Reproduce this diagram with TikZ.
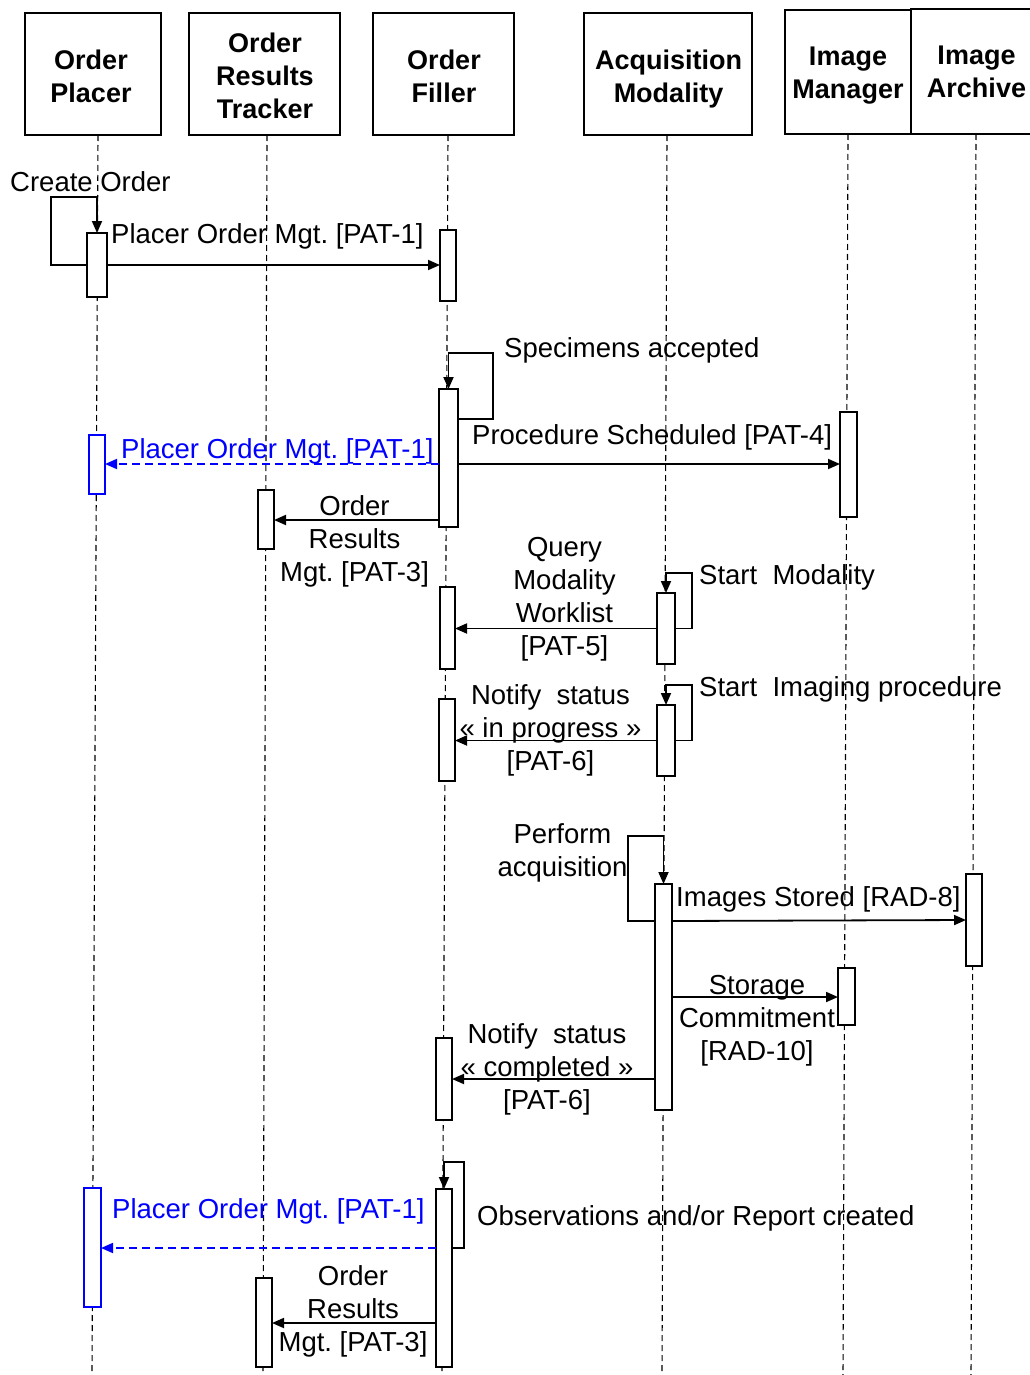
\documentclass[tikz,border=0pt]{standalone}
\usepackage{fontspec}
\setmainfont{Liberation Sans}
\usetikzlibrary{arrows.meta}
\definecolor{pblue}{RGB}{0,0,255}
\frenchspacing
\tikzset{
  head/.style={draw, line width=1.5pt, inner sep=0pt, outer sep=0pt},
  htxt/.style={font=\bfseries\fontsize{27}{33}\selectfont, align=center, inner sep=0pt, anchor=north},
  life/.style={line width=1.1pt, dash pattern=on 6pt off 4pt},
  act/.style={draw, fill=white, line width=1.4pt, inner sep=0pt, outer sep=0pt},
  bact/.style={act, draw=pblue},
  msg/.style={line width=1.8pt, -{Triangle[length=12pt,width=10pt]}},
  bmsg/.style={msg, draw=pblue, dash pattern=on 8pt off 5pt},
  lbl/.style={font=\fontsize{27.5}{33}\selectfont, inner sep=0pt, anchor=base west},
  mlbl/.style={font=\fontsize{27.5}{33}\selectfont, inner sep=0pt, align=center, anchor=north},
}
\begin{document}
\begin{tikzpicture}[x=1pt,y=-1pt]
\useasboundingbox (0,0) rectangle (1029,1375);
\fill[white] (0,0) rectangle (1029,1375);

% header boxes
\node[head, minimum width=136pt, minimum height=122pt] (opBox) at (93,74) {};
\node[head, minimum width=151pt, minimum height=122pt] (ortBox) at (264.5,74) {};
\node[head, minimum width=141pt, minimum height=122pt] (ofBox) at (443.5,74) {};
\node[head, minimum width=168pt, minimum height=122pt] (amBox) at (668,74) {};
\node[head, minimum width=126pt, minimum height=124pt] (imBox) at (848,72) {};
\node[head, minimum width=130pt, minimum height=125pt] (iaBox) at (976,71.5) {};

\node[htxt] (opT) at (91,50) {Order\\Placer};
\node[htxt] (ortT) at (265,33) {Order\\Results\\Tracker};
\node[htxt] (ofT) at (444,50) {Order\\Filler};
\node[htxt] (amT) at (668.5,50) {Acquisition\\Modality};
\node[htxt] (imT) at (848,47) {Image\\Manager};
\node[htxt] (iaT) at (976.5,46) {Image\\Archive};

% lifelines
\coordinate (opEnd) at (92,1375);
\coordinate (ortEnd) at (263,1375);
\coordinate (ofEnd) at (442,1375);
\coordinate (amEnd) at (662,1375);
\coordinate (imEnd) at (843,1375);
\coordinate (iaEnd) at (971,1375);
\draw[life] (opBox.south -| 98,0) -- (opEnd);
\draw[life] (ortBox.south -| 267,0) -- (ortEnd);
\draw[life] (ofBox.south -| 448,0) -- (ofEnd);
\draw[life] (amBox.south -| 667,0) -- (amEnd);
\draw[life] (imBox.south -| 848,0) -- (imEnd);
\draw[life] (iaBox.south -| 976,0) -- (iaEnd);

% activation boxes
\node[act, minimum width=20pt, minimum height=64pt] (opA1) at (97,265) {};
\node[act, minimum width=16pt, minimum height=71pt] (ofA1) at (448,265.5) {};
\node[act, minimum width=19pt, minimum height=138pt] (ofA2) at (448.5,458) {};
\node[act, minimum width=17pt, minimum height=105pt] (imA1) at (848.5,464.5) {};
\node[bact, minimum width=16pt, minimum height=59pt] (opB1) at (97,464.5) {};
\node[act, minimum width=16pt, minimum height=59pt] (ortA1) at (266,519.5) {};
\node[act, minimum width=15pt, minimum height=82pt] (ofA3) at (447.5,628) {};
\node[act, minimum width=18pt, minimum height=71pt] (amA1) at (666,628.5) {};
\node[act, minimum width=16pt, minimum height=82pt] (ofA4) at (447,740) {};
\node[act, minimum width=18pt, minimum height=71pt] (amA2) at (666,740.5) {};
\node[act, minimum width=17pt, minimum height=226pt] (amA3) at (663.5,997) {};
\node[act, minimum width=16pt, minimum height=92pt] (iaA1) at (974,920) {};
\node[act, minimum width=17pt, minimum height=57pt] (imA2) at (846.5,996.5) {};
\node[act, minimum width=16pt, minimum height=82pt] (ofA5) at (444,1079) {};
\node[act, minimum width=16pt, minimum height=178pt] (ofA6) at (444,1278) {};
\node[bact, minimum width=17pt, minimum height=119pt] (opB2) at (92.5,1247.5) {};
\node[act, minimum width=16pt, minimum height=89pt] (ortA2) at (264,1322.5) {};

% messages
\draw[msg] (opA1.west) -| (51,197) -| (opA1.north);
\draw[msg] (opA1.east) -- (ofA1.west |- opA1.east);
\draw[msg] (ofA2.east |- 0,419) -| (493,353) -| (ofA2.north);
\draw[msg] (ofA2.east |- 0,464) -- (imA1.west |- 0,464);
\draw[bmsg] (ofA2.west |- 0,464) -- (opB1.east |- 0,464);
\draw[msg] (ofA2.west |- 0,520) -- (ortA1.east |- 0,520);
\draw[msg] (amA1.east) -| (692,573) -| (amA1.north);
\draw[msg] (amA1.west) -- (ofA3.east |- amA1.west);
\draw[msg] (amA2.east) -| (692,685) -| (amA2.north);
\draw[msg] (amA2.west) -- (ofA4.east |- amA2.west);
\draw[msg] (amA3.west |- 0,921) -| (628,836) -| (amA3.north);
\draw[msg] (amA3.east |- 0,921) -- (iaA1.west);
\draw[msg] (amA3.east |- 0,997) -- (imA2.west |- 0,997);
\draw[msg] (amA3.west |- 0,1079) -- (ofA5.east);
\draw[msg] (ofA6.east |- 0,1248) -| (464,1162) -| (ofA6.north);
\draw[bmsg] (ofA6.west |- 0,1248) -- (opB2.east |- 0,1248);
\draw[msg] (ofA6.west |- 0,1323) -- (ortA2.east |- 0,1323);

% labels
\node[lbl] (lCreate) at (10,192) {Create Order};
\node[lbl] (lPom1) at (111,243) {Placer Order Mgt. [PAT-1]};
\node[lbl] (lSpec) at (504,357) {Specimens accepted};
\node[lbl] (lProc) at (472,444) {Procedure Scheduled [PAT-4]};
\node[lbl, text=pblue] (lPom2) at (121,458) {Placer Order Mgt. [PAT-1]};
\node[mlbl] (lOrm1) at (354.5,495) {Order\\Results\\Mgt. [PAT-3]};
\node[mlbl] (lQuery) at (564.5,537) {Query\\Modality\\Worklist\\{}[PAT-5]};
\node[lbl] (lStartM) at (699,584) {Start\ \ Modality};
\node[mlbl] (lNot1) at (550.5,684) {Notify\ \ status\\« in progress »\\{}[PAT-6]};
\node[lbl] (lStartI) at (699,696) {Start\ \ Imaging procedure};
\node[mlbl] (lPerf) at (562.5,823) {Perform\\acquisition};
\node[lbl] (lImg) at (676,906) {Images Stored [RAD-8]};
\node[mlbl] (lStor) at (757,975) {Storage\\Commitment\\{}[RAD-10]};
\node[mlbl] (lNot2) at (547,1023) {Notify\ \ status\\« completed »\\{}[PAT-6]};
\node[lbl] (lObs) at (477,1225) {Observations and/or Report created};
\node[lbl, text=pblue] (lPom3) at (112,1218) {Placer Order Mgt. [PAT-1]};
\node[mlbl] (lOrm2) at (353,1265) {Order\\Results\\Mgt. [PAT-3]};
\end{tikzpicture}
\end{document}
